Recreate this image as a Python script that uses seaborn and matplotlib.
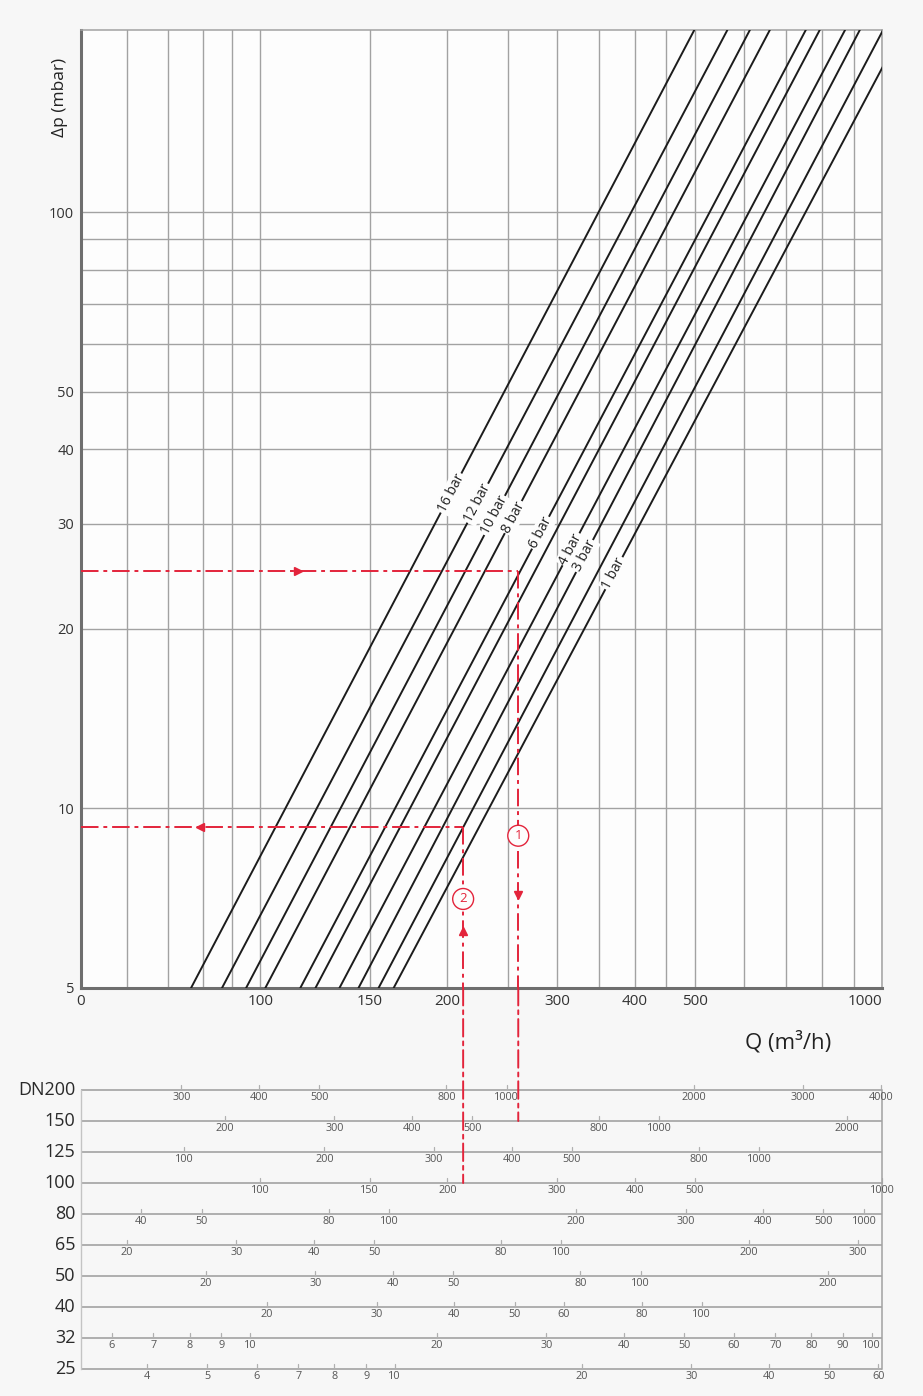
import numpy as np
import pandas as pd
import matplotlib
matplotlib.use("Agg")
import matplotlib.pyplot as plt
import seaborn as sns
from matplotlib.patches import ConnectionPatch
from matplotlib.ticker import NullFormatter

# --- pressure lines: flow Q (m3/h) where each line meets the bottom (5 mbar) and the top of the chart
bar_names = ["16 bar", "12 bar", "10 bar", "8 bar", "6 bar", "", "4 bar", "3 bar", "", "1 bar"]
q_low = [77.4, 86.8, 94.9, 101.9, 116.0, 122.7, 134.1, 143.9, 155.0, 163.9]
q_high = [499, 564, 613, 660, 754, 794, 872, 921, 1004, 1078]
dp_ends = [5, 202]
label_dp = [33.8, 32.5, 31.0, 30.8, 29.0, 0, 27.2, 26.5, 0, 24.8]

# axis ticks
x_major = [51.5, 100, 150, 200, 300, 400, 500, 1000]
x_major_text = ["0", "100", "150", "200", "300", "400", "500", "1000"]
x_minor = [61, 71, 81, 90, 250, 350, 450, 600, 700, 800, 900]
y_major = [5, 10, 20, 30, 40, 50, 100]
y_minor = [60, 70, 80, 90]

# worked examples (red)
ex_q = [260, 212]
ex_dp = [25, 9.3]
ex_row = [1, 3]
ex_arrow_q = [115, 80]
ex_arrow_dp = [7.15, 6.24]
ex_circle_dp = [9.0, 7.05]

# DN scales below the chart
dn_names = ["DN200", "150", "125", "100", "80", "65", "50", "40", "32", "25"]
dn_factor = [0.249, 0.4385, 0.634, 1.0, 1.61, 3.05, 4.09, 5.13, 9.62, 16.45]
dn_ticks = [
    [300, 400, 500, 800, 1000, 2000, 3000, 4000],
    [200, 300, 400, 500, 800, 1000, 2000],
    [119, 200, 300, 400, 500, 800, 1000],
    [100, 150, 200, 300, 400, 500, 1000],
    [40, 50, 80, 100, 200, 300, 400, 500, 581],
    [20, 30, 40, 50, 80, 100, 200, 300],
    [20, 30, 40, 50, 80, 100, 200],
    [20, 30, 40, 50, 60, 80, 100],
    [6, 7, 8, 9, 10, 20, 30, 40, 50, 60, 70, 80, 90, 100],
    [4, 5, 6, 7, 8, 9, 10, 20, 30, 40, 50, 60],
]
# labels printed away from their scale value in the original sheet
dn_printed = {(2, 119): "100", (4, 581): "1000"}

red = "#e3243b"
grid_c = "#a2a2a2"

sns.set_theme(style="whitegrid")
plt.rcParams["font.family"] = ["Open Sans", "DejaVu Sans"]

fig = plt.figure(figsize=(9.23, 13.96), dpi=100, facecolor="#f7f7f7")
ax = fig.add_axes([0.0878, 0.2923, 0.8678, 0.6862], facecolor="#fdfdfd")
axd = fig.add_axes([0.0878, 0.0193, 0.8678, 0.1999], sharex=ax, facecolor="none")

ax.set_xscale("log")
ax.set_yscale("log")

# pressure lines
rows = []
for i in range(len(q_low)):
    rows.append({"Q": q_low[i], "dp": dp_ends[0], "line": i})
    rows.append({"Q": q_high[i], "dp": dp_ends[1], "line": i})
df = pd.DataFrame(rows)
sns.lineplot(data=df, x="Q", y="dp", units="line", estimator=None,
             color="#1c1c1c", lw=1.4, ax=ax, legend=False, zorder=3)
ax.set_xlim(51.5, 1000)
ax.set_ylim(5, 202)

p1 = ax.transData.transform((q_low[0], dp_ends[0]))
p2 = ax.transData.transform((q_high[0], dp_ends[1]))
ang = np.degrees(np.arctan2(p2[1] - p1[1], p2[0] - p1[0]))
for i, name in enumerate(bar_names):
    if not name:
        continue
    lq = np.interp(np.log10(label_dp[i]), np.log10(dp_ends),
                   [np.log10(q_low[i]), np.log10(q_high[i])])
    ax.text(10 ** lq, label_dp[i], name, rotation=ang, rotation_mode="anchor",
            ha="center", va="center", fontsize=10, color="#222", zorder=4,
            bbox=dict(boxstyle="square,pad=0.1", fc="#fdfdfd", ec="none"))

# grid and ticks
ax.set_xticks(x_major)
ax.set_xticklabels(x_major_text)
ax.set_xticks(x_minor, minor=True)
ax.xaxis.set_minor_formatter(NullFormatter())
ax.set_yticks(y_major)
ax.set_yticklabels([str(v) for v in y_major])
ax.set_yticks(y_minor, minor=True)
ax.yaxis.set_minor_formatter(NullFormatter())
ax.grid(True, which="both", color=grid_c, lw=1.0)
ax.tick_params(which="both", length=0)
ax.tick_params(axis="x", labelsize=11, labelcolor="#333", pad=4)
ax.tick_params(axis="y", labelsize=10.5, labelcolor="#333", pad=5)
xt = ax.get_xticklabels()
xt[-1].set_horizontalalignment("right")
ax.set_xlabel("")
ax.set_ylabel("")
for s in ["left", "bottom"]:
    ax.spines[s].set_color("#6e6e6e")
    ax.spines[s].set_linewidth(2.2)
for s in ["top", "right"]:
    ax.spines[s].set_color(grid_c)
    ax.spines[s].set_linewidth(1.1)

fig.text(788 / 923, 1 - 1042 / 1396, "Q (m³/h)", fontsize=16, color="#222",
         ha="center", va="center")
fig.text(60 / 923, 1 - 97 / 1396, "Δp (mbar)", fontsize=12.5, color="#222",
         rotation=90, ha="center", va="center")

# DN scales
axd.set_ylim(9, 0)
axd.grid(False)
axd.tick_params(which="both", length=0, labelbottom=False, labelleft=False)
axd.hlines(range(len(dn_names)), 51.5, 1000, color=grid_c, lw=1.2, clip_on=False)
for s in ["top", "bottom"]:
    axd.spines[s].set_visible(False)
axd.spines["right"].set_color(grid_c)
axd.spines["right"].set_linewidth(1.1)
axd.spines["left"].set_color("#c4c4c4")
axd.spines["left"].set_linewidth(1.0)
ytr = axd.get_yaxis_transform()
for r, name in enumerate(dn_names):
    axd.text(-0.007, r, name, transform=ytr, ha="right", va="center",
             fontsize=13, color="#2a2a2a")
    for v in dn_ticks[r]:
        q = v * dn_factor[r]
        axd.plot([q, q], [r - 0.16, r], color="#b0b0b0", lw=0.9, clip_on=False)
        txt = dn_printed.get((r, v), str(v))
        axd.text(q, r + 0.25, txt, ha="center", va="center", fontsize=7.8,
                 color="#555", clip_on=False)

# worked examples
dash = (0, (9, 2.5, 2, 2.5))
for k in range(len(ex_q)):
    ax.plot([51.5, ex_q[k]], [ex_dp[k], ex_dp[k]], color=red, lw=1.4,
            linestyle=dash, zorder=5, clip_on=False)
    ax.plot([ex_q[k], ex_q[k]], [ex_dp[k], 5], color=red, lw=1.4,
            linestyle=dash, zorder=5, clip_on=False)
    con = ConnectionPatch(xyA=(ex_q[k], 5), coordsA=ax.transData,
                          xyB=(ex_q[k], ex_row[k]), coordsB=axd.transData,
                          color=red, lw=1.4, linestyle=dash, zorder=5)
    fig.add_artist(con)
    ax.plot(ex_arrow_q[k], ex_dp[k], marker=">" if k == 0 else "<", ms=6,
            color=red, zorder=6)
    ax.plot(ex_q[k], ex_arrow_dp[k], marker="v" if k == 0 else "^", ms=6,
            color=red, zorder=6)
    ax.text(ex_q[k], ex_circle_dp[k], str(k + 1), ha="center", va="center",
            fontsize=9.5, color=red, zorder=8,
            bbox=dict(boxstyle="circle,pad=0.3", fc="#fdfdfd", ec=red, lw=1.0))

fig.savefig("out.png", dpi=100, facecolor=fig.get_facecolor())
